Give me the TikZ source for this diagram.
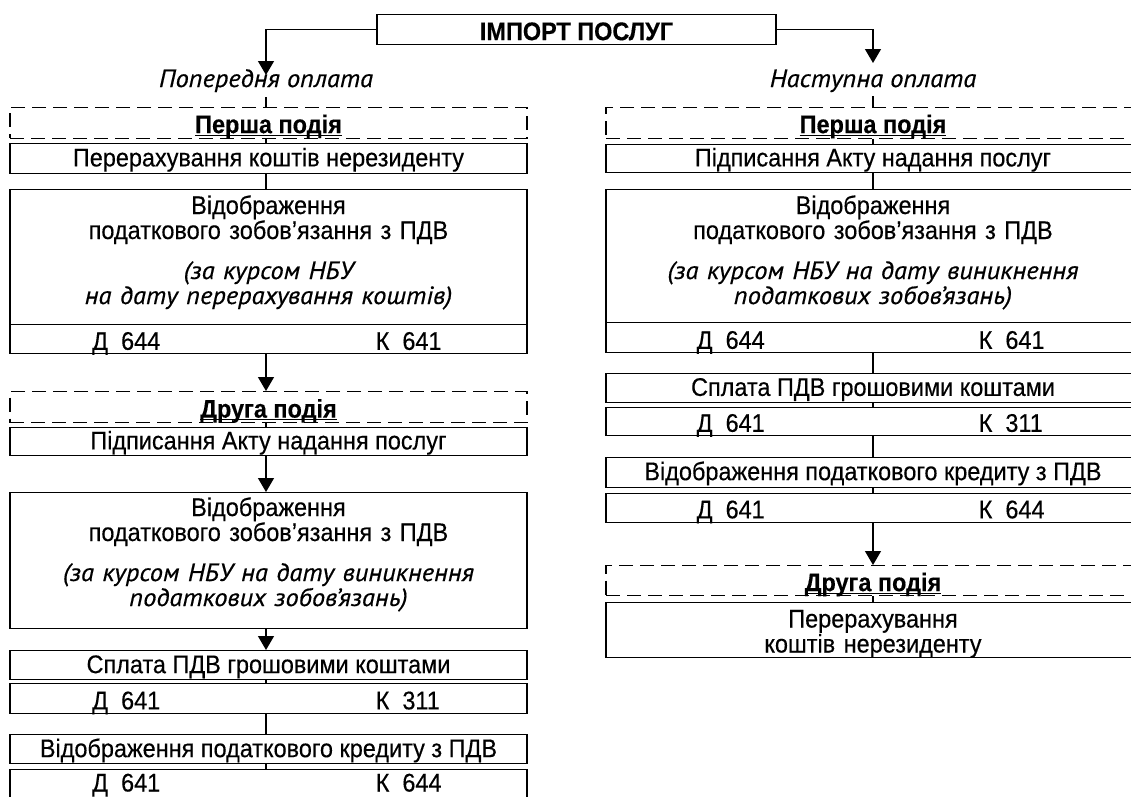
\documentclass[tikz,border=0pt]{standalone}
\usepackage{fontspec}
\setmainfont{Liberation Sans}[FakeStretch=0.92, FakeBold=0.35]
\newfontfamily\ptit{PT Sans Italic}[FakeStretch=1.06, FakeBold=0.45]
\usetikzlibrary{arrows.meta,calc}
\newcommand\myul[1]{\setbox0\hbox{#1}\rlap{\copy0}\rule[-2.8pt]{\wd0}{1.4pt}}
\newcommand\fnt{\fontsize{25.5}{25}\selectfont}
\newcommand\itx[1]{{\ptit\fontsize{25}{25}\selectfont #1}}
\begin{document}
\begin{tikzpicture}[x=1pt,y=-1pt,
  txt/.style={font=\fnt, inner sep=0pt},
  frame/.style={draw, line width=1.3pt, inner sep=0pt, anchor=north, font=\fnt},
  onel/.style={frame, text height=19pt, text depth=3pt},
  rowbox/.style={frame, text height=22pt, text depth=1pt},
  evt/.style={draw, line width=1.2pt, dash pattern=on 14pt off 7pt, inner sep=0pt, anchor=north,
              font=\fnt\bfseries, text height=22pt, text depth=1pt},
  colL/.style={minimum width=517pt},
  colR/.style={minimum width=534pt},
  ln/.style={line width=1.3pt},
  arr/.style={line width=1.3pt, -{Triangle[length=14pt,width=16pt]}},
  acct/.style={txt, anchor=base west},
  bigtxt/.style={txt, anchor=base, text width=510pt, align=center}
]
\useasboundingbox (0,0) rectangle (1131,796);
\fill[white] (0,0) rectangle (1131,796);
\coordinate (cL) at (266,0);

% title
\node[rowbox, minimum width=399pt, minimum height=30pt, font=\fnt\bfseries] (title) at (576.5,14) {ІМПОРТ ПОСЛУГ};

% labels
\node[txt, anchor=base] (labL) at (266,87) {\itx{Попередня оплата}};
\node[txt, anchor=base] (labR) at (873,87) {\itx{Наступна оплата}};

% left column
\node[evt, colL, minimum height=31pt] (dashL1) at (268.5,106.5) {\myul{Перша подія}};
\node[onel, colL, minimum height=29.5pt] (boxL1) at (268.5,143) {Перерахування коштів нерезиденту};
\node[frame, colL, minimum height=135pt] (bigL1) at (268.5,189) {};
\node[bigtxt] (tL1) at (268.5,214) {Відображення\\податкового зобов’язання з ПДВ\\[15pt]\itx{(за курсом НБУ}\\\itx{на дату перерахування коштів)}};
\node[rowbox, colL, minimum height=29pt] (rowL1) at (268.5,324) {};
\node[acct] (dL1) at ($(rowL1.south)+(-176.5,-4.5)$) {Д\ \ 644};
\node[acct] (kL1) at ($(rowL1.south)+(107,-4.5)$) {К\ \ 641};
\node[evt, colL, minimum height=31pt] (dashL2) at (268.5,391) {\myul{Друга подія}};
\node[onel, colL, minimum height=28.5pt] (boxL2) at (268.5,426.5) {Підписання Акту надання послуг};
\node[frame, colL, minimum height=136pt] (bigL2) at (268.5,492) {};
\node[bigtxt] (tL2) at (268.5,516) {Відображення\\податкового зобов’язання з ПДВ\\[15pt]\itx{(за курсом НБУ на дату виникнення}\\\itx{податкових зобов’язань)}};
\node[onel, colL, minimum height=29pt] (boxL3) at (268.5,650) {Сплата ПДВ грошовими коштами};
\node[rowbox, colL, minimum height=29.5pt] (rowL3) at (268.5,683) {};
\node[acct] (dL3) at ($(rowL3.south)+(-176.5,-4.5)$) {Д\ \ 641};
\node[acct] (kL3) at ($(rowL3.south)+(107,-4.5)$) {К\ \ 311};
\node[onel, colL, minimum height=29pt] (boxL4) at (268.5,734) {Відображення податкового кредиту з ПДВ};
\node[rowbox, colL, minimum height=32pt] (rowL4) at (268.5,769) {};
\node[acct] (dL4) at ($(rowL4.north)+(-176.5,22.5)$) {Д\ \ 641};
\node[acct] (kL4) at ($(rowL4.north)+(107,22.5)$) {К\ \ 644};

% right column
\node[evt, colR, minimum height=31pt] (dashR1) at (873,106.5) {\myul{Перша подія}};
\node[onel, colR, minimum height=28.5pt] (boxR1) at (873,143.5) {Підписання Акту надання послуг};
\node[frame, colR, minimum height=133.5pt] (bigR1) at (873,188.5) {};
\node[bigtxt] (tR1) at (873,214) {Відображення\\податкового зобов’язання з ПДВ\\[15pt]\itx{(за курсом НБУ на дату виникнення}\\\itx{податкових зобов’язань)}};
\node[rowbox, colR, minimum height=30pt] (rowR1) at (873,322) {};
\node[acct] (dR1) at ($(rowR1.south)+(-176.5,-4.5)$) {Д\ \ 644};
\node[acct] (kR1) at ($(rowR1.south)+(105.5,-4.5)$) {К\ \ 641};
\node[onel, colR, minimum height=28.5pt] (boxR2) at (873,373) {Сплата ПДВ грошовими коштами};
\node[rowbox, colR, minimum height=28.5pt] (rowR2) at (873,406.5) {};
\node[acct] (dR2) at ($(rowR2.south)+(-176.5,-4.5)$) {Д\ \ 641};
\node[acct] (kR2) at ($(rowR2.south)+(105.5,-4.5)$) {К\ \ 311};
\node[onel, colR, minimum height=30pt] (boxR3) at (873,456.5) {Відображення податкового кредиту з ПДВ};
\node[rowbox, colR, minimum height=29pt] (rowR3) at (873,492.5) {};
\node[acct] (dR3) at ($(rowR3.south)+(-176.5,-4.5)$) {Д\ \ 641};
\node[acct] (kR3) at ($(rowR3.south)+(105.5,-4.5)$) {К\ \ 644};
\node[evt, colR, minimum height=30pt] (dashR2) at (873,565) {\myul{Друга подія}};
\node[frame, colR, minimum height=55.5pt] (boxR4) at (873,601.5) {};
\node[bigtxt] (tR4) at (873,627.5) {Перерахування\\коштів нерезиденту};

% connectors left
\draw[arr] (title.west) -| ([yshift=12pt]labL.base);
\draw[ln] ([yshift=-10pt]labL.base) -- (dashL1.north -| cL);
\draw[ln] (dashL1.south -| cL) -- (boxL1.north -| cL);
\draw[ln] (boxL1.south -| cL) -- (bigL1.north -| cL);
\draw[arr] (rowL1.south -| cL) -- (dashL2.north -| cL);
\draw[ln] (dashL2.south -| cL) -- (boxL2.north -| cL);
\draw[arr] (boxL2.south -| cL) -- (bigL2.north -| cL);
\draw[arr] (bigL2.south -| cL) -- (boxL3.north -| cL);
\draw[ln] (boxL3.south -| cL) -- (rowL3.north -| cL);
\draw[ln] (rowL3.south -| cL) -- (boxL4.north -| cL);
\draw[ln] (boxL4.south -| cL) -- (rowL4.north -| cL);

% connectors right
\draw[arr] (title.east) -| ([yshift=24pt]labR.base);
\draw[ln] ([yshift=-9pt]labR.base) -- (dashR1.north);
\draw[ln] (dashR1.south) -- (boxR1.north);
\draw[ln] (boxR1.south) -- (bigR1.north);
\draw[ln] (rowR1.south) -- (boxR2.north);
\draw[ln] (boxR2.south) -- (rowR2.north);
\draw[ln] (rowR2.south) -- (boxR3.north);
\draw[ln] (boxR3.south) -- (rowR3.north);
\draw[arr] (rowR3.south) -- (dashR2.north);
\draw[ln] (dashR2.south) -- (boxR4.north);
\end{tikzpicture}
\end{document}
